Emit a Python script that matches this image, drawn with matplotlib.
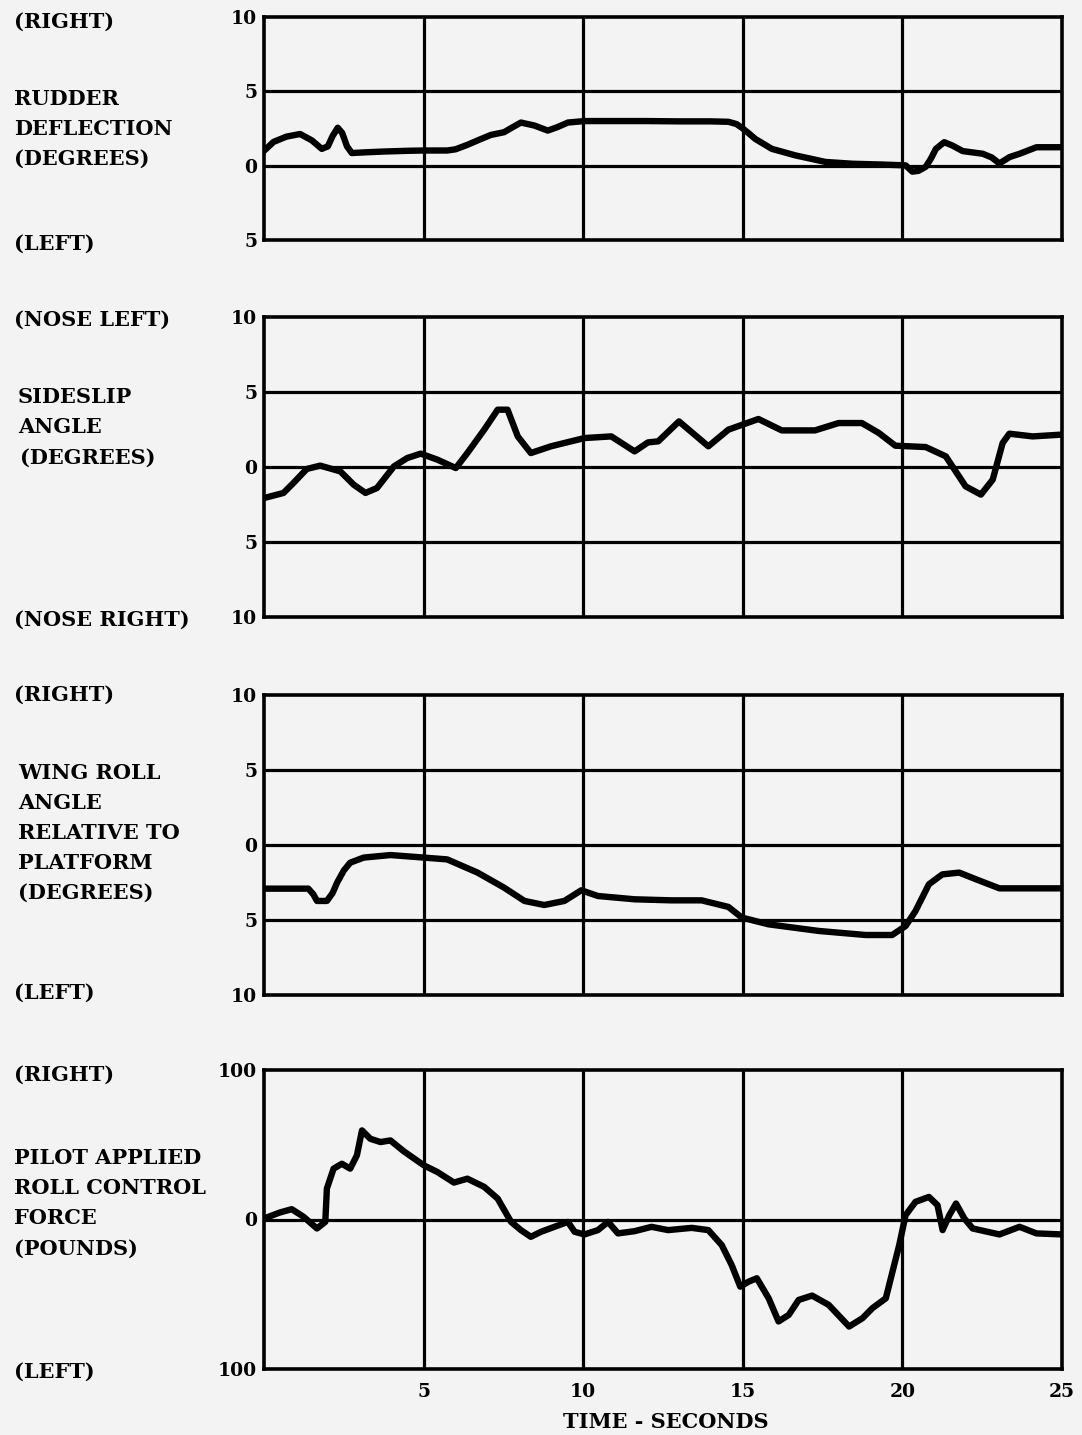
import numpy as np
import matplotlib
matplotlib.use('Agg')
import matplotlib.pyplot as plt

W, H = 1082, 1435
plt.rcParams['font.family'] = 'DejaVu Serif'
plt.rcParams['font.weight'] = 'bold'
paper = '#f3f3f3'

# rudder deflection (deg), + = right
rud_t = [0, 0.3, 0.7, 1.13, 1.5, 1.81, 2.0, 2.15, 2.31, 2.45, 2.6, 2.75, 3.2, 3.75, 4.5, 5.0,
         5.74, 6.0, 6.37, 6.75, 7.11, 7.52, 7.8, 8.05, 8.47, 8.89, 9.2, 9.52, 10.04, 11, 12, 13,
         14, 14.55, 14.8, 14.97, 15.2, 15.39, 15.91, 16.65, 17.59, 18.43, 19.3, 20.1, 20.31,
         20.5, 20.73, 20.9, 21.05, 21.31, 21.57, 21.89, 22.52, 22.8, 23.04, 23.36, 23.67, 24.2, 25]
rud_v = [1.0, 1.6, 1.95, 2.13, 1.7, 1.13, 1.3, 2.0, 2.55, 2.2, 1.3, 0.85, 0.9, 0.95, 1.0, 1.02,
         1.02, 1.1, 1.4, 1.75, 2.07, 2.25, 2.6, 2.9, 2.7, 2.36, 2.6, 2.9, 3.0, 3.0, 3.0, 2.98,
         2.98, 2.95, 2.8, 2.55, 2.15, 1.8, 1.13, 0.69, 0.25, 0.13, 0.08, 0.02, -0.4,
         -0.35, -0.08, 0.5, 1.13, 1.58, 1.35, 0.98, 0.8, 0.55, 0.15, 0.58, 0.8, 1.24, 1.24]

# sideslip angle (deg), + = nose left
slip_t = [0, 0.61, 0.92, 1.34, 1.76, 2.39, 2.81, 3.18, 3.54, 4.07, 4.49, 4.91, 5.43, 6.01, 6.37,
          6.9, 7.32, 7.63, 7.95, 8.36, 8.99, 10.04, 10.88, 11.61, 12.03, 12.35, 13.0, 13.92,
          14.55, 15.49, 16.22, 17.26, 18.0, 18.73, 19.26, 19.78, 20.73, 21.36, 21.98, 22.46,
          22.83, 23.14, 23.35, 24.08, 25]
slip_v = [-2.07, -1.73, -1.07, -0.13, 0.09, -0.29, -1.18, -1.73, -1.4, 0.04, 0.6, 0.89, 0.49,
          -0.07, 0.93, 2.49, 3.82, 3.82, 2.04, 0.93, 1.38, 1.93, 2.04, 1.04, 1.64, 1.71, 3.04,
          1.38, 2.49, 3.2, 2.44, 2.44, 2.93, 2.93, 2.27, 1.42, 1.33, 0.71, -1.29, -1.84,
          -0.84, 1.6, 2.22, 2.04, 2.16]

# wing roll angle relative to platform (deg), + = right
roll_t = [0, 1.39, 1.55, 1.66, 1.97, 2.15, 2.29, 2.5, 2.7, 3.12, 3.96, 5.01, 5.74, 6.69, 7.52,
          8.16, 8.78, 9.41, 9.94, 10.46, 11.61, 12.77, 13.71, 14.55, 14.97, 15.81, 17.38,
          18.85, 19.68, 20.1, 20.41, 20.83, 21.25, 21.78, 22.31, 23.04, 25]
roll_v = [-2.91, -2.91, -3.3, -3.73, -3.73, -3.2, -2.51, -1.7, -1.18, -0.84, -0.67, -0.84, -0.96,
          -1.84, -2.84, -3.73, -4.0, -3.73, -3.02, -3.4, -3.62, -3.69, -3.69, -4.13, -4.84,
          -5.29, -5.73, -6.0, -6.0, -5.4, -4.4, -2.62, -1.96, -1.84, -2.29, -2.89, -2.89]

# pilot applied roll control force (lb), + = right
force_t = [0, 0.5, 0.87, 1.24, 1.66, 1.92, 1.97, 2.18, 2.44, 2.7, 2.91, 3.07, 3.33, 3.65, 3.96,
           4.38, 5.01, 5.43, 5.95, 6.37, 6.9, 7.32, 7.74, 8.05, 8.36, 8.68, 9.1, 9.52, 9.73,
           10.04, 10.46, 10.78, 11.09, 11.61, 12.14, 12.66, 13.4, 13.92, 14.34, 14.65, 14.92,
           15.18, 15.44, 15.81, 16.12, 16.44, 16.75, 17.17, 17.69, 18.33, 18.75, 19.06, 19.48,
           19.69, 19.9, 20.1, 20.41, 20.83, 21.1, 21.26, 21.47, 21.68, 21.94, 22.2, 23.04,
           23.67, 24.2, 25]
force_v = [0.7, 4.7, 6.9, 1.8, -6, -1.6, 20.7, 34, 37.3, 34, 42.9, 59.6, 54, 51.8, 52.9,
           45.6, 36.2, 31.8, 24.7, 27.3, 21.8, 14, -1.6, -7.1, -11.6, -8.2, -4.9, -1.6, -8.2,
           -10, -7.1, -1.6, -9.3, -7.8, -4.9, -7.1, -5.6, -7.1, -17.1, -30.4, -44.9,
           -41.6, -39.3, -52.7, -68.2, -63.8, -53.8, -50.9, -57.1, -71.6, -66, -59.3, -52.7,
           -34.9, -17.1, 2.9, 11.8, 15.1, 9.6, -7.1, 2.9, 10.7, 0.7, -6, -10,
           -4.9, -9.3, -10]

x_ticks = [5, 10, 15, 20, 25]

panels = [
    # (top px, bottom px, ylim, yticks, gridlines, t, v)
    (17, 240, (-5, 10), [10, 5, 0, -5], [5, 0], rud_t, rud_v),
    (317, 617, (-10, 10), [10, 5, 0, -5, -10], [5, 0, -5], slip_t, slip_v),
    (695, 995, (-10, 10), [10, 5, 0, -5, -10], [5, 0, -5], roll_t, roll_v),
    (1070, 1369, (-100, 100), [100, 0, -100], [0], force_t, force_v),
]

fig = plt.figure(figsize=(W / 100, H / 100), dpi=100, facecolor=paper)
x0, x1 = 264, 1062

for i, (top, bot, ylim, yt, grid_y, t, v) in enumerate(panels):
    ax = fig.add_axes([x0 / W, 1 - bot / H, (x1 - x0) / W, (bot - top) / H])
    ax.set_facecolor(paper)
    ax.set_xlim(0, 25)
    ax.set_ylim(*ylim)
    for g in grid_y:
        ax.axhline(g, color='black', lw=2.3, zorder=1)
    for g in x_ticks[:-1]:
        ax.axvline(g, color='black', lw=2.3, zorder=1)
    ax.plot(t, v, color='black', lw=4.6, solid_joinstyle='round',
            solid_capstyle='round', zorder=3)
    for s in ax.spines.values():
        s.set_linewidth(2.6)
    ax.set_yticks(yt)
    ax.set_yticklabels([str(abs(y)) for y in yt], fontsize=13.5, fontweight='bold')
    ax.tick_params(axis='y', length=0, pad=5)
    if i == 3:
        ax.set_xticks(x_ticks)
        ax.set_xticklabels([str(x) for x in x_ticks], fontsize=13.5, fontweight='bold')
        ax.tick_params(axis='x', length=0, pad=10)
    else:
        ax.set_xticks([])

fig.text(666 / W, 1 - 1422 / H, 'TIME - SECONDS', ha='center', va='center',
         fontsize=15, fontweight='bold')

# side labels: (x px, y px, text)
side_labels = [
    (14, 22, '(RIGHT)'), (14, 99, 'RUDDER'), (14, 129, 'DEFLECTION'), (14, 159, '(DEGREES)'),
    (14, 244, '(LEFT)'),
    (14, 320, '(NOSE LEFT)'), (18, 397, 'SIDESLIP'), (18, 427, 'ANGLE'), (20, 458, '(DEGREES)'),
    (14, 620, '(NOSE RIGHT)'),
    (14, 695, '(RIGHT)'), (18, 773, 'WING ROLL'), (18, 803, 'ANGLE'), (18, 833, 'RELATIVE TO'),
    (18, 863, 'PLATFORM'), (18, 893, '(DEGREES)'), (14, 993, '(LEFT)'),
    (14, 1075, '(RIGHT)'), (14, 1158, 'PILOT APPLIED'), (14, 1188, 'ROLL CONTROL'),
    (14, 1218, 'FORCE'), (14, 1249, '(POUNDS)'), (14, 1372, '(LEFT)'),
]
for x, y, s in side_labels:
    fig.text(x / W, 1 - y / H, s, ha='left', va='center', fontsize=15, fontweight='bold')

fig.savefig('out.png', dpi=100, facecolor=paper)
